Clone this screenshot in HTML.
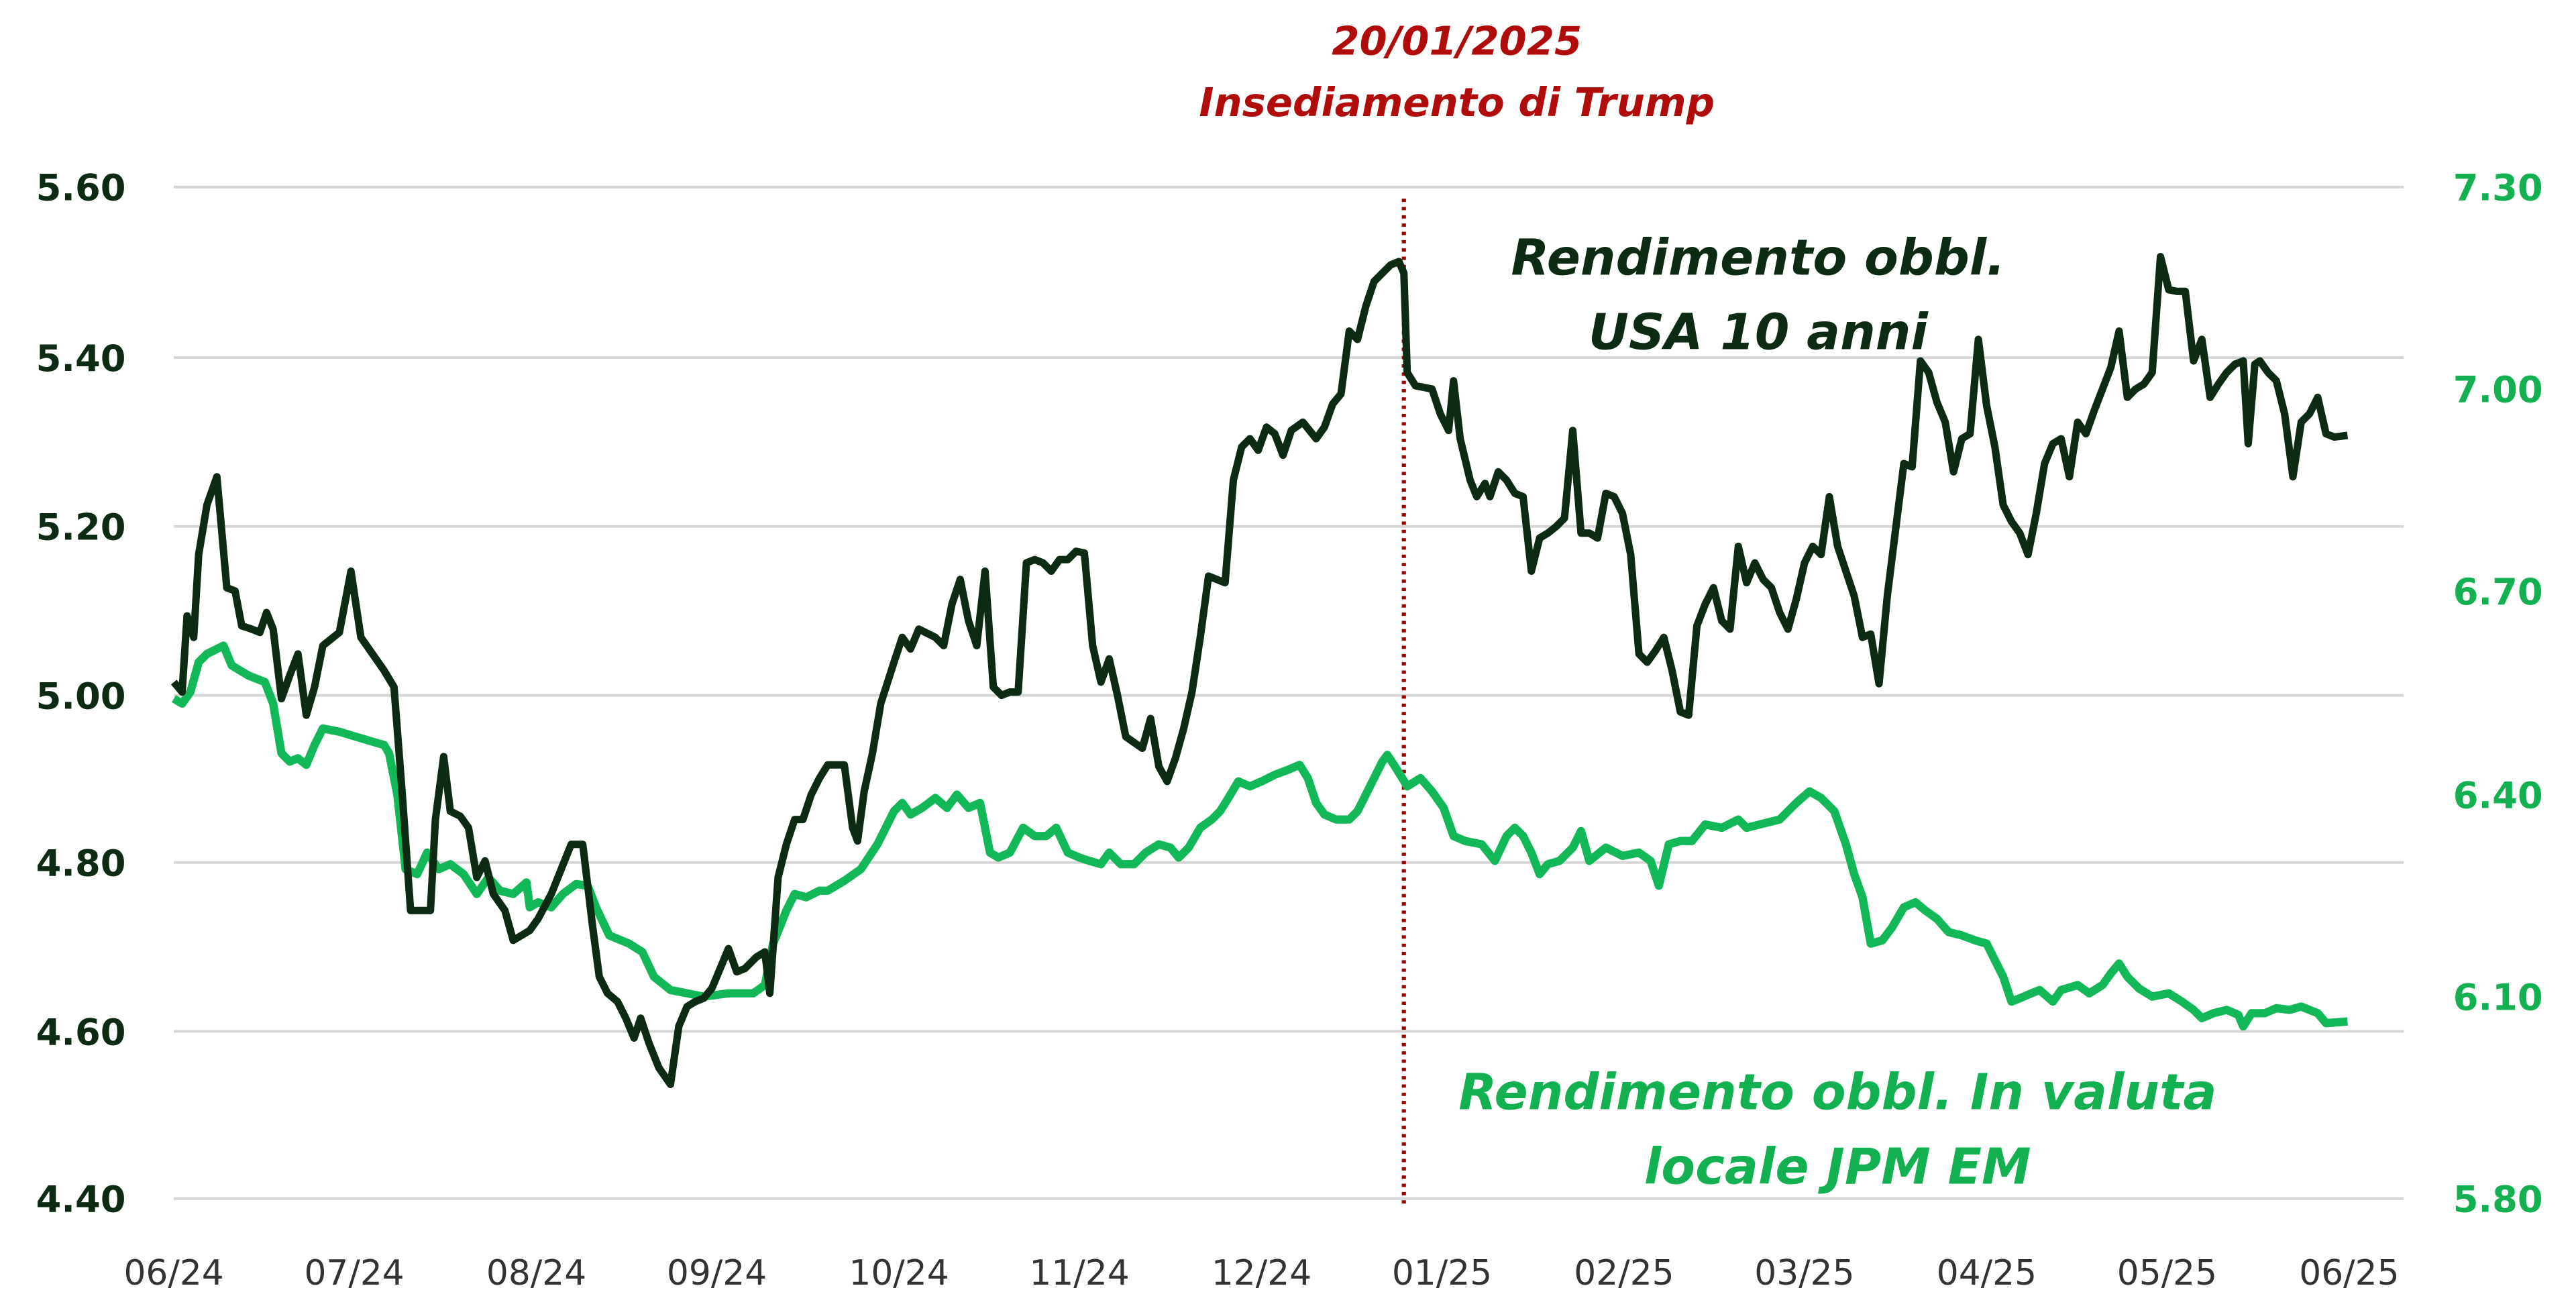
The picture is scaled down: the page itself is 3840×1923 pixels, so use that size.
<!DOCTYPE html>
<html><head><meta charset="utf-8"><style>
html,body{margin:0;padding:0;background:#fff;}
svg{display:block}
text{font-family:"DejaVu Sans","Liberation Sans",sans-serif}
</style></head><body>
<svg width="3840" height="1923" viewBox="0 0 1556 779.2" preserveAspectRatio="none">
<rect width="1556" height="780" fill="#fff"/>
<g stroke="#d6d6d6" stroke-width="1.6">
<line x1="105" x2="1452" y1="113" y2="113"/>
<line x1="105" x2="1452" y1="216" y2="216"/>
<line x1="105" x2="1452" y1="318" y2="318"/>
<line x1="105" x2="1452" y1="420" y2="420"/>
<line x1="105" x2="1452" y1="521" y2="521"/>
<line x1="105" x2="1452" y1="623" y2="623"/>
<line x1="105" x2="1452" y1="724" y2="724"/>
</g>
<g font-size="22" font-weight="bold" fill="#0d2b12" text-anchor="end">
<text x="76" y="121">5.60</text><text x="76" y="224">5.40</text><text x="76" y="326">5.20</text>
<text x="76" y="428">5.00</text><text x="76" y="529">4.80</text><text x="76" y="631">4.60</text><text x="76" y="732">4.40</text>
</g>
<g font-size="22" font-weight="bold" fill="#12b050" text-anchor="end">
<text x="1536" y="121">7.30</text><text x="1536" y="243">7.00</text><text x="1536" y="365">6.70</text>
<text x="1536" y="488">6.40</text><text x="1536" y="610">6.10</text><text x="1536" y="732">5.80</text>
</g>
<g font-size="21" fill="#333" text-anchor="middle">
<text x="105" y="776">06/24</text><text x="214" y="776">07/24</text><text x="324" y="776">08/24</text>
<text x="433" y="776">09/24</text><text x="543" y="776">10/24</text><text x="652" y="776">11/24</text>
<text x="762" y="776">12/24</text><text x="871" y="776">01/25</text><text x="981" y="776">02/25</text>
<text x="1090" y="776">03/25</text><text x="1200" y="776">04/25</text><text x="1309" y="776">05/25</text>
<text x="1419" y="776">06/25</text>
</g>
<line x1="848" x2="848" y1="120" y2="728" stroke="#a00000" stroke-width="2.5" stroke-dasharray="2,3"/>
<g font-size="24" font-weight="bold" font-style="italic" fill="#b00c0c" text-anchor="middle">
<text x="880" y="33">20/01/2025</text><text x="880" y="70">Insediamento di Trump</text>
</g>
<g font-size="30" font-weight="bold" font-style="italic" fill="#0d2b12" text-anchor="middle">
<text x="1062" y="166">Rendimento obbl.</text><text x="1062" y="211">USA 10 anni</text>
</g>
<g font-size="30" font-weight="bold" font-style="italic" fill="#12b050" text-anchor="middle">
<text x="1110" y="670">Rendimento obbl. In valuta</text><text x="1110" y="715">locale JPM EM</text>
</g>
<polyline fill="none" stroke="#12b858" stroke-width="5" stroke-linejoin="round" points="105,422 110,425 115,418 120,400 125,395 135,390 140,402 150,408 155,410 160,412 165,425 170,455 175,460 180,458 185,462 190,450 195,440 205,442 215,445 225,448 232,450 235,455 240,480 245,525 252,528 258,515 265,525 272,522 280,528 288,540 295,530 302,538 310,540 318,533 320,548 325,545 333,548 340,540 348,534 355,535 360,548 368,565 380,570 388,575 395,590 405,598 415,600 425,602 440,600 455,600 462,595 467,570 475,550 480,540 487,542 495,538 500,538 510,532 520,525 530,510 535,500 540,490 545,485 550,492 557,488 565,482 572,488 578,480 585,488 592,485 598,515 603,518 610,515 618,500 625,505 632,505 638,500 645,515 652,518 658,520 665,522 670,515 677,522 685,522 692,515 700,510 707,512 712,518 718,512 725,500 732,495 737,490 742,482 748,472 755,475 762,472 770,468 778,465 785,462 790,470 795,485 800,492 807,495 815,495 820,490 825,480 830,470 835,460 838,456 842,462 847,470 850,475 858,470 865,478 872,488 878,505 885,508 895,510 903,520 910,505 915,500 920,505 925,515 930,528 935,522 942,520 950,512 955,502 960,520 970,512 980,517 990,515 997,520 1002,535 1008,510 1015,508 1022,508 1030,498 1040,500 1050,495 1055,500 1063,498 1075,495 1085,485 1093,478 1100,482 1108,490 1115,510 1120,528 1125,542 1130,570 1137,568 1143,560 1150,548 1157,545 1163,550 1170,555 1177,563 1185,565 1193,568 1200,570 1205,580 1210,590 1215,605 1220,603 1227,600 1232,598 1240,605 1245,598 1255,595 1262,600 1270,595 1275,588 1280,582 1285,590 1292,597 1300,602 1310,600 1318,605 1325,610 1330,615 1337,612 1345,610 1352,613 1355,620 1360,612 1368,612 1375,609 1383,610 1390,608 1395,610 1400,612 1405,618 1418,617"/>
<polyline fill="none" stroke="#0d2b12" stroke-width="4.5" stroke-linejoin="round" points="105,412 110,418 113,372 117,385 120,335 125,305 131,288 137,355 142,357 146,378 152,380 157,382 161,370 165,380 170,422 175,408 180,395 185,432 190,415 195,390 205,382 212,345 218,385 225,395 232,405 238,415 243,480 248,550 255,550 260,550 263,495 268,457 272,490 278,493 283,500 288,530 293,520 298,540 305,550 310,568 315,565 320,562 325,555 333,540 345,510 352,510 358,560 362,590 367,600 373,605 378,615 383,627 387,615 392,630 398,645 405,655 410,620 415,608 420,605 425,603 430,597 440,573 445,587 450,585 457,578 462,575 465,600 470,530 475,510 480,495 485,495 490,480 495,470 500,462 510,462 515,500 518,508 522,478 527,455 532,425 540,400 545,385 550,392 555,380 565,385 570,390 575,365 580,350 585,375 590,390 595,345 600,415 605,420 610,418 615,418 620,340 625,338 630,340 635,345 640,338 645,338 650,333 655,334 660,390 665,412 670,398 675,420 680,445 690,452 695,434 700,463 705,472 710,458 715,440 720,418 725,385 730,348 735,350 740,352 745,290 750,270 755,265 760,272 765,258 770,262 775,275 780,260 787,255 795,265 800,258 805,244 810,238 815,200 820,205 825,185 830,170 835,165 840,160 845,158 848,165 850,225 855,233 865,235 870,250 875,260 878,230 882,265 888,290 892,300 897,292 900,300 905,285 910,290 915,298 920,300 925,345 930,325 935,322 940,318 945,313 950,260 955,322 960,322 965,325 970,298 975,300 980,310 985,335 990,395 995,400 1000,393 1005,385 1010,405 1015,430 1020,432 1025,378 1030,365 1035,355 1040,375 1045,380 1050,330 1055,352 1060,340 1065,350 1070,355 1075,370 1080,380 1085,362 1090,340 1095,330 1100,335 1105,300 1110,330 1115,345 1120,360 1125,385 1130,383 1135,413 1140,360 1145,320 1150,280 1155,282 1160,218 1165,225 1170,243 1175,255 1180,285 1185,265 1190,262 1195,205 1200,245 1205,270 1210,305 1215,315 1220,322 1225,335 1230,310 1235,280 1240,268 1245,265 1250,288 1255,255 1260,262 1265,248 1270,235 1275,222 1280,200 1285,240 1290,235 1295,232 1300,225 1305,155 1310,175 1315,176 1320,176 1325,218 1330,205 1335,240 1340,232 1345,225 1350,220 1355,218 1358,268 1362,220 1365,218 1370,225 1375,230 1380,250 1385,288 1390,255 1395,250 1400,240 1405,262 1410,264 1418,263"/>
</svg>
</body></html>
